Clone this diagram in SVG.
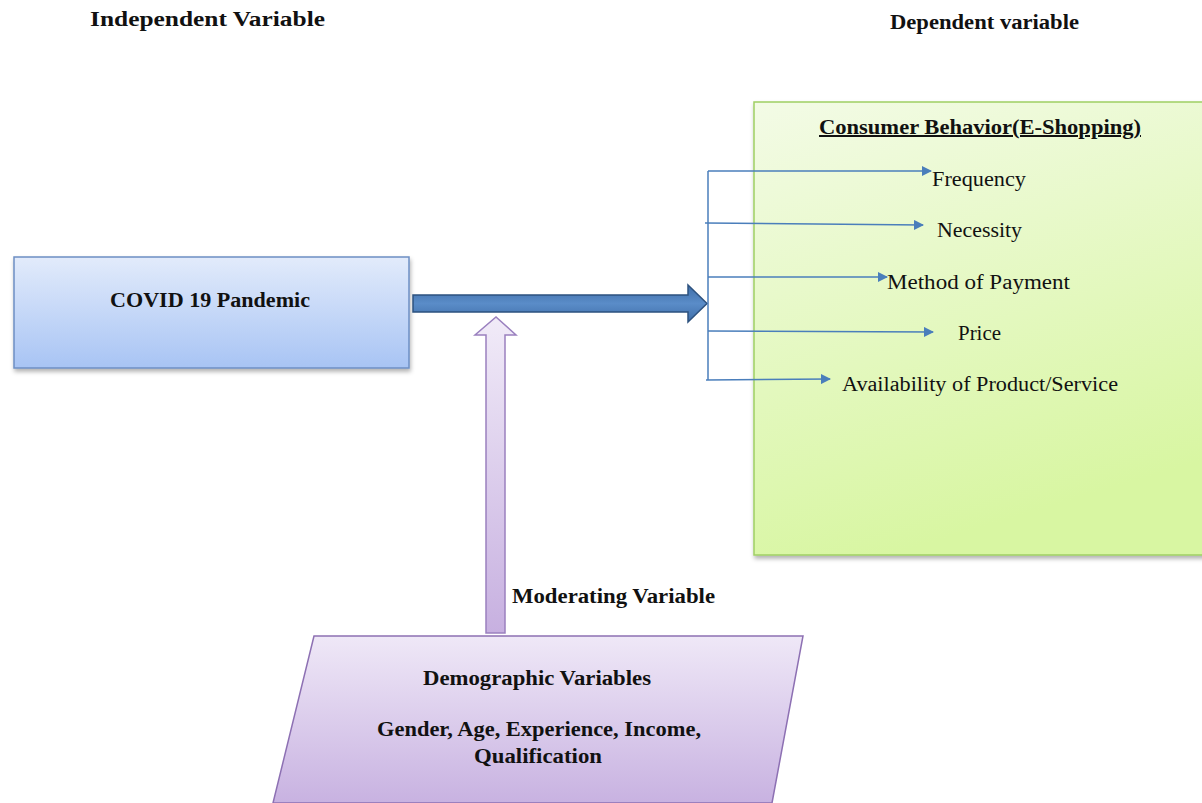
<svg xmlns="http://www.w3.org/2000/svg" width="1202" height="803" viewBox="0 0 1202 803">
  <defs>
    <linearGradient id="gBlue" x1="0" y1="0" x2="0" y2="1">
      <stop offset="0" stop-color="#e2ebfb"/>
      <stop offset="1" stop-color="#a8c4f4"/>
    </linearGradient>
    <linearGradient id="gGreen" x1="0" y1="0" x2="0.3" y2="1">
      <stop offset="0" stop-color="#f3fbe6"/>
      <stop offset="1" stop-color="#d8f6a2"/>
    </linearGradient>
    <linearGradient id="gPurple" x1="0" y1="0" x2="0" y2="1">
      <stop offset="0" stop-color="#efe8f7"/>
      <stop offset="1" stop-color="#c8b2e1"/>
    </linearGradient>
    <linearGradient id="gPurpleArrow" x1="0" y1="0" x2="0" y2="1">
      <stop offset="0" stop-color="#f1ebf8"/>
      <stop offset="1" stop-color="#c7b0e0"/>
    </linearGradient>
    <linearGradient id="gNavy" x1="0" y1="0" x2="0" y2="1">
      <stop offset="0" stop-color="#3f6ea8"/>
      <stop offset="0.5" stop-color="#5a8cc8"/>
      <stop offset="1" stop-color="#3f6ea8"/>
    </linearGradient>
    <filter id="shadow" x="-5%" y="-5%" width="110%" height="120%">
      <feDropShadow dx="1" dy="3" stdDeviation="2" flood-color="#000" flood-opacity="0.3"/>
    </filter>
    <marker id="tip" viewBox="0 0 10 10" refX="9" refY="5" markerWidth="10" markerHeight="10" markerUnits="userSpaceOnUse" orient="auto">
      <path d="M0,0 L10,5 L0,10 z" fill="#4a7ebb"/>
    </marker>
  </defs>
  <style>
    .t { font-family: "Liberation Serif", "Times New Roman", serif; fill: #111; font-size: 20px; }
    .b { font-weight: bold; }
    .branch { stroke: #4a7ebb; stroke-width: 1.5; fill: none; }
  </style>

  <rect width="1202" height="803" fill="#ffffff"/>

  <!-- headings -->
  <text class="t b" x="90" y="26" textLength="235" lengthAdjust="spacingAndGlyphs">Independent Variable</text>
  <text class="t b" x="890" y="29" font-size="18" textLength="189" lengthAdjust="spacingAndGlyphs">Dependent variable</text>

  <!-- independent variable -->
  <g id="covid">
    <rect x="14" y="257" width="395" height="111" fill="url(#gBlue)" stroke="#6d8fc4" stroke-width="1.5" filter="url(#shadow)"/>
    <text class="t b" x="110" y="307" textLength="200" lengthAdjust="spacingAndGlyphs">COVID  19 Pandemic</text>
  </g>

  <!-- dependent variable -->
  <g id="consumer">
    <rect x="754" y="102" width="452" height="453" fill="url(#gGreen)" stroke="#9fcf63" stroke-width="1.5" filter="url(#shadow)"/>
    <text class="t b" x="819" y="134" text-decoration="underline" textLength="322" lengthAdjust="spacingAndGlyphs">Consumer Behavior(E-Shopping)</text>
    <text class="t" x="932" y="186" textLength="94" lengthAdjust="spacingAndGlyphs">Frequency</text>
    <text class="t" x="937" y="237" textLength="85" lengthAdjust="spacingAndGlyphs">Necessity</text>
    <text class="t" x="887" y="289" textLength="183" lengthAdjust="spacingAndGlyphs">Method of Payment</text>
    <text class="t" x="958" y="340" textLength="43" lengthAdjust="spacingAndGlyphs">Price</text>
    <text class="t" x="842" y="391" textLength="276" lengthAdjust="spacingAndGlyphs">Availability of Product/Service</text>
  </g>

  <!-- moderating variable -->
  <g id="demographic">
    <polygon points="314,636 803,636 772,803 273,803" fill="url(#gPurple)" stroke="#8d70b3" stroke-width="1.5"/>
    <text class="t b" x="423" y="685" textLength="228" lengthAdjust="spacingAndGlyphs">Demographic Variables</text>
    <text class="t b" x="377" y="736" textLength="324" lengthAdjust="spacingAndGlyphs">Gender, Age, Experience, Income,</text>
    <text class="t b" x="474" y="763" textLength="128" lengthAdjust="spacingAndGlyphs">Qualification</text>
  </g>
  <text class="t b" x="512" y="603" textLength="203" lengthAdjust="spacingAndGlyphs">Moderating Variable</text>

  <g id="connectors">
    <!-- main effect arrow -->
    <polygon points="413,295 688,295 688,285 707,303.5 688,322 688,312 413,312" fill="url(#gNavy)" stroke="#2d527f" stroke-width="1.5"/>
    <!-- moderating arrow -->
    <polygon points="486,633 486,335 475,335 496,317 516,335 505,335 505,633" fill="url(#gPurpleArrow)" stroke="#9a80bf" stroke-width="1.5"/>
    <!-- branches to each dimension -->
    <path class="branch" d="M708,171 L708,380"/>
    <path class="branch" d="M708,171 L931,171" marker-end="url(#tip)"/>
    <path class="branch" d="M705,223 L923,225" marker-end="url(#tip)"/>
    <path class="branch" d="M708,277 L887,277" marker-end="url(#tip)"/>
    <path class="branch" d="M708,331 L933,332" marker-end="url(#tip)"/>
    <path class="branch" d="M706,380 L830,379" marker-end="url(#tip)"/>
  </g>
</svg>
